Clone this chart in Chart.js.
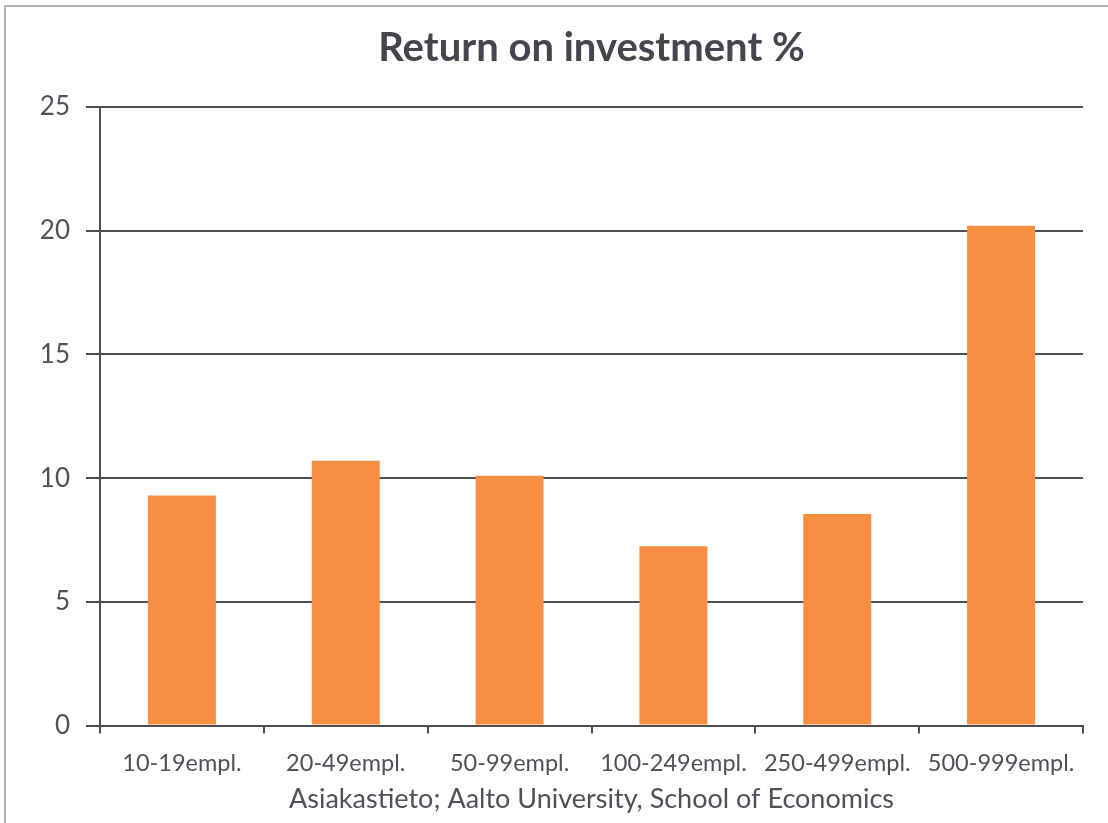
<!DOCTYPE html>
<html>
<head>
<meta charset="utf-8">
<script src="https://cdn.jsdelivr.net/npm/chart.js@4"></script>
<style>
  html, body { margin: 0; padding: 0; background: #fff; overflow: hidden; }
  #frame { position: absolute; left: 4px; top: 5px; width: 1200px; height: 900px; border: 2px solid #b4b4b4; }
  #wrap { position: absolute; left: 0; top: 0; width: 1108px; height: 823px; }
</style>
</head>
<body>
<div id="frame"></div>
<div id="wrap"><canvas id="chart"></canvas></div>
<script>
// データ
const categories = ['10-19empl.', '20-49empl.', '50-99empl.', '100-249empl.', '250-499empl.', '500-999empl.'];
const roiValues = [9.3, 10.7, 10.1, 7.25, 8.55, 20.2];
const yTicks = [0, 5, 10, 15, 20, 25];

const lineColor = '#4d4d55';
const textColor = '#505058';
const fontFamily = 'Lato, "Open Sans", sans-serif';

const ctx = document.getElementById('chart').getContext('2d');
new Chart(ctx, {
    type: 'bar',
    data: {
        labels: categories,
        datasets: [{
            label: 'Return on investment %',
            data: roiValues,
            backgroundColor: '#f68f41',
            borderWidth: 0,
            barPercentage: 0.415,
            categoryPercentage: 1
        }]
    },
    options: {
        responsive: true,
        maintainAspectRatio: false,
        animation: false,
        layout: { padding: { left: 0, right: 25, top: 0, bottom: 0 } },
        plugins: {
            legend: { display: false },
            tooltip: { enabled: false },
            title: {
                display: true,
                fullSize: false, // 描画領域の中央に揃える
                text: 'Return on investment %',
                color: '#45454d',
                font: { family: fontFamily, size: 40, weight: 'bold' },
                padding: { top: 24, bottom: 35 }
            },
            subtitle: {
                display: true,
                fullSize: false,
                position: 'bottom',
                text: 'Asiakastieto; Aalto University, School of Economics',
                color: textColor,
                font: { family: fontFamily, size: 27 },
                padding: { top: 4, bottom: 8 }
            }
        },
        scales: {
            x: {
                offset: true,
                afterFit: scale => { scale.height = 53; },
                grid: {
                    offset: true,
                    drawOnChartArea: false,
                    drawTicks: true,
                    tickLength: 8,
                    color: lineColor,
                    lineWidth: 2
                },
                border: { display: true, color: lineColor, width: 2 },
                ticks: {
                    color: textColor,
                    font: { family: fontFamily, size: 23.5 },
                    padding: 16,
                    maxRotation: 0,
                    autoSkip: false
                }
            },
            y: {
                min: 0,
                max: 25,
                afterFit: scale => { scale.width = 100; },
                afterBuildTicks: scale => { scale.ticks = yTicks.map(v => ({ value: v })); },
                grid: {
                    color: lineColor,
                    lineWidth: 2,
                    tickLength: 14
                },
                border: { display: true, color: lineColor, width: 2 },
                ticks: {
                    color: textColor,
                    font: { family: fontFamily, size: 26 },
                    padding: 16
                }
            }
        }
    }
});
</script>
</body>
</html>
